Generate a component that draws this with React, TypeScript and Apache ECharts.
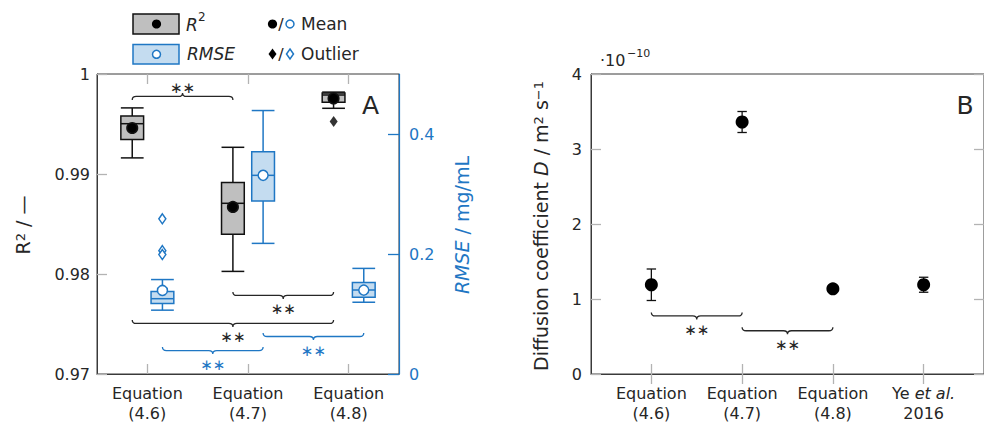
import React, { useEffect, useRef } from 'react';
import * as echarts from 'echarts';

// ---------- data ----------
const leftCategories = ['Equation\n(4.6)', 'Equation\n(4.7)', 'Equation\n(4.8)'];
// [lower whisker, Q1, median, Q3, upper whisker]
const r2Box = [
  [0.99161, 0.99346, 0.99503, 0.99579, 0.99661],
  [0.98026, 0.98398, 0.98707, 0.98914, 0.99267],
  [0.99657, 0.99717, 0.9979, 0.99809, 0.99819],
];
const r2Mean = [0.9946, 0.98671, 0.99756];
const r2Outliers = [[2, 0.99526]];
const rmseBox = [
  [0.1064, 0.1173, 0.1255, 0.1377, 0.1574],
  [0.2177, 0.2884, 0.3311, 0.3706, 0.4391],
  [0.1196, 0.1278, 0.14, 0.1525, 0.176],
];
const rmseMean = [0.1393, 0.3311, 0.1398];
const rmseOutliers = [[0, 0.2587], [0, 0.2056], [0, 0.199]];

const rightCategories = ['Equation\n(4.6)', 'Equation\n(4.7)', 'Equation\n(4.8)', 'Ye {i|et al.}\n2016'];
const rightX = [1, 2, 3, 4];
const diffMean = [1.19, 3.36, 1.135, 1.19]; // x 1e-10 m^2/s
const diffErr = [0.21, 0.14, 0.03, 0.1];

const r2TickValues = [0.97, 0.98, 0.99, 1];
const rmseTickValues = [0, 0.2, 0.4];
const diffTickValues = [0, 1, 2, 3, 4];

// significance brackets (annotations): [fromCat, fromSide, toCat, toSide, level(R2 axis), dir, blue?]
const leftBrackets = [
  [0, -1, 1, -1, 0.99776, -1, 0],
  [1, -1, 2, -1, 0.97786, 1, 0],
  [0, -1, 2, -1, 0.97506, 1, 0],
  [0, 1, 1, 1, 0.97234, 1, 1],
  [1, 1, 2, 1, 0.97375, 1, 1],
];
const rightBrackets = [
  [1, 2, 0.775, 1],
  [2, 3, 0.577, 1],
];

// ---------- styles ----------
const FONT = 'DejaVu Sans';
const DARK = '#262626';
const FRAME = '#3a3a3a';
const TICK = '#b3b3b3';
const BLUE = '#1f77c4';
const LIGHTBLUE = '#c4dcf0';
const GRAYFILL = '#bfbfbf';
const OFF = 0.15; // fraction of band width
const HALF = 0.113;
const TITLE = 19;

const tickStyle = { show: true, inside: true, length: 10, lineStyle: { color: TICK, width: 1.3 } };
const labelBase = { fontFamily: FONT, fontSize: 16, color: DARK };

function bracePath(x0: number, x1: number, y: number, dir: number) {
  const h = 3.5 * dir;
  const r = 4;
  const m = (x0 + x1) / 2;
  return `M${x0} ${y - h} Q${x0} ${y} ${x0 + r} ${y} L${m - r} ${y} Q${m} ${y} ${m} ${y + h} Q${m} ${y} ${m + r} ${y} L${x1 - r} ${y} Q${x1} ${y} ${x1} ${y - h}`;
}

function braceGroup(x0: number, x1: number, y: number, dir: number, color: string) {
  const m = (x0 + x1) / 2;
  return {
    type: 'group',
    children: [
      { type: 'path', shape: { pathData: bracePath(x0, x1, y, dir) }, style: { stroke: color, fill: 'none', lineWidth: 1.3 } },
      {
        type: 'text',
        x: m,
        y: dir > 0 ? y + 14 : y - 8,
        style: { text: '∗∗', fontFamily: FONT, fontSize: 15, fill: color, align: 'center', verticalAlign: 'middle' },
      },
    ],
  };
}

function makeBoxRender(side: number, stroke: string, fill: string, meanFill: string, r: number) {
  return (params: any, api: any) => {
    const cat = api.value(0);
    const band = api.size([1, 0])[0];
    const cx = api.coord([cat, api.value(3)])[0] + side * band * OFF;
    const hw = band * HALF;
    const yy = (i: number) => api.coord([cat, api.value(i)])[1];
    const lo = yy(1), q1 = yy(2), med = yy(3), q3 = yy(4), hi = yy(5), mean = yy(6);
    const ls = { stroke, lineWidth: 1.5 };
    return {
      type: 'group',
      children: [
        { type: 'line', shape: { x1: cx, y1: q3, x2: cx, y2: hi }, style: ls },
        { type: 'line', shape: { x1: cx, y1: q1, x2: cx, y2: lo }, style: ls },
        { type: 'line', shape: { x1: cx - hw, y1: hi, x2: cx + hw, y2: hi }, style: ls },
        { type: 'line', shape: { x1: cx - hw, y1: lo, x2: cx + hw, y2: lo }, style: ls },
        { type: 'rect', shape: { x: cx - hw, y: q3, width: 2 * hw, height: q1 - q3 }, style: { fill, stroke, lineWidth: 1.5 } },
        { type: 'line', shape: { x1: cx - hw, y1: med, x2: cx + hw, y2: med }, style: ls },
        { type: 'circle', shape: { cx, cy: mean, r }, style: { fill: meanFill, stroke, lineWidth: 1.5 } },
      ],
    };
  };
}

const titleRich = (fill: string) => ({
  i: { fontFamily: FONT, fontSize: TITLE, fill, fontStyle: 'italic' },
  sup: { fontFamily: FONT, fontSize: 13, fill, verticalAlign: 'top' },
});

const option: any = {
  animation: false,
  backgroundColor: '#fff',
  grid: [
    { left: 97, top: 74, width: 302, height: 304, show: true, borderColor: FRAME, borderWidth: 1, backgroundColor: 'transparent' },
    { left: 591, top: 74, width: 403, height: 304, show: true, borderColor: FRAME, borderWidth: 1, backgroundColor: 'transparent' },
  ],
  xAxis: [
    {
      type: 'category', gridIndex: 0, data: leftCategories, position: 'bottom',
      axisLine: { lineStyle: { color: FRAME, width: 1 } },
      axisTick: { ...tickStyle, alignWithLabel: true },
      axisLabel: { ...labelBase, margin: 9, lineHeight: 20 },
      splitLine: { show: false },
    },
    {
      type: 'category', gridIndex: 0, data: leftCategories, position: 'top',
      axisLine: { show: false },
      axisTick: { ...tickStyle, alignWithLabel: true },
      axisLabel: { show: false },
      splitLine: { show: false },
    },
    {
      type: 'value', gridIndex: 1, min: 0.335, max: 4.665, position: 'bottom',
      axisLine: { onZero: false, lineStyle: { color: FRAME, width: 1 } },
      axisTick: { ...tickStyle, customValues: rightX },
      axisLabel: {
        ...labelBase, margin: 9, lineHeight: 20, customValues: rightX,
        formatter: (v: number) => rightCategories[Math.round(v) - 1] || '',
        rich: { i: { fontFamily: FONT, fontSize: 16, color: DARK, fontStyle: 'italic' } },
      },
      splitLine: { show: false },
    },
    {
      type: 'value', gridIndex: 1, min: 0.335, max: 4.665, position: 'top',
      axisLine: { show: false },
      axisTick: { ...tickStyle, customValues: rightX },
      axisLabel: { show: false, customValues: rightX },
      splitLine: { show: false },
    },
  ],
  yAxis: [
    {
      type: 'value', gridIndex: 0, min: 0.97, max: 1, interval: 0.01, position: 'left',
      axisLine: { show: true, lineStyle: { color: FRAME, width: 1 } },
      axisTick: { ...tickStyle, customValues: r2TickValues },
      axisLabel: { ...labelBase, margin: 7, customValues: r2TickValues, formatter: (v: number) => String(+v.toFixed(2)) },
      splitLine: { show: false },
    },
    {
      type: 'value', gridIndex: 0, min: 0, max: 0.5, position: 'right',
      axisLine: { show: true, lineStyle: { color: BLUE, width: 1.2 } },
      axisTick: { show: true, inside: true, length: 11, customValues: rmseTickValues, lineStyle: { color: BLUE, width: 1.3 } },
      axisLabel: { ...labelBase, color: BLUE, margin: 10, customValues: rmseTickValues, formatter: (v: number) => String(+v.toFixed(1)) },
      splitLine: { show: false },
    },
    {
      type: 'value', gridIndex: 1, min: 0, max: 4, interval: 1, position: 'left',
      axisLine: { show: true, lineStyle: { color: FRAME, width: 1 } },
      axisTick: { ...tickStyle, customValues: diffTickValues },
      axisLabel: { ...labelBase, margin: 9, customValues: diffTickValues },
      splitLine: { show: false },
    },
    {
      type: 'value', gridIndex: 1, min: 0, max: 4, interval: 1, position: 'right',
      axisLine: { show: true, lineStyle: { color: FRAME, width: 1 } },
      axisTick: { ...tickStyle, customValues: diffTickValues },
      axisLabel: { show: false },
      splitLine: { show: false },
    },
  ],
  series: [
    {
      type: 'custom', name: 'R2', xAxisIndex: 0, yAxisIndex: 0,
      data: r2Box.map((b, i) => [i, ...b, r2Mean[i]]),
      encode: { x: 0, y: [1, 2, 3, 4, 5] },
      renderItem: makeBoxRender(-1, '#111', GRAYFILL, '#000', 5.3),
      z: 3,
    },
    {
      type: 'custom', name: 'RMSE', xAxisIndex: 0, yAxisIndex: 1,
      data: rmseBox.map((b, i) => [i, ...b, rmseMean[i]]),
      encode: { x: 0, y: [1, 2, 3, 4, 5] },
      renderItem: makeBoxRender(1, BLUE, LIGHTBLUE, '#fff', 5),
      z: 3,
    },
    {
      type: 'scatter', xAxisIndex: 0, yAxisIndex: 0, data: r2Outliers,
      symbol: 'diamond', symbolSize: [8, 11], symbolOffset: [-15, 0],
      itemStyle: { color: '#000' }, z: 4,
    },
    {
      type: 'scatter', xAxisIndex: 0, yAxisIndex: 1, data: rmseOutliers,
      symbol: 'diamond', symbolSize: [7, 10], symbolOffset: [15, 0],
      itemStyle: { color: '#fff', borderColor: BLUE, borderWidth: 1.5, opacity: 1 }, z: 4,
    },
    {
      type: 'custom', xAxisIndex: 0, yAxisIndex: 0, data: leftBrackets,
      encode: { x: 0, y: 4 },
      renderItem: (params: any, api: any) => {
        const band = api.size([1, 0])[0];
        const x0 = api.coord([api.value(0), 0.98])[0] + api.value(1) * band * OFF;
        const x1 = api.coord([api.value(2), 0.98])[0] + api.value(3) * band * OFF;
        const y = api.coord([0, api.value(4)])[1];
        return braceGroup(x0, x1, y, api.value(5), api.value(6) ? BLUE : DARK);
      },
      z: 5,
    },
    {
      type: 'custom', xAxisIndex: 2, yAxisIndex: 2,
      data: rightX.map((x, i) => [x, diffMean[i], diffErr[i]]),
      encode: { x: 0, y: 1 },
      renderItem: (params: any, api: any) => {
        const x = api.value(0), m = api.value(1), e = api.value(2);
        const top = api.coord([x, m + e]);
        const bot = api.coord([x, m - e]);
        const cw = 4.7;
        const st = { stroke: '#111', lineWidth: 1.3 };
        return {
          type: 'group',
          children: [
            { type: 'line', shape: { x1: top[0], y1: top[1], x2: bot[0], y2: bot[1] }, style: st },
            { type: 'line', shape: { x1: top[0] - cw, y1: top[1], x2: top[0] + cw, y2: top[1] }, style: st },
            { type: 'line', shape: { x1: bot[0] - cw, y1: bot[1], x2: bot[0] + cw, y2: bot[1] }, style: st },
          ],
        };
      },
      z: 3,
    },
    {
      type: 'scatter', xAxisIndex: 2, yAxisIndex: 2,
      data: rightX.map((x, i) => [x, diffMean[i]]),
      symbol: 'circle', symbolSize: 13, itemStyle: { color: '#000', opacity: 1 }, z: 4,
    },
    {
      type: 'custom', xAxisIndex: 2, yAxisIndex: 2, data: rightBrackets,
      encode: { x: 0, y: 2 },
      renderItem: (params: any, api: any) => {
        const p0 = api.coord([api.value(0), api.value(2)]);
        const p1 = api.coord([api.value(1), api.value(2)]);
        return braceGroup(p0[0], p1[0], p0[1], api.value(3), DARK);
      },
      z: 5,
    },
  ],
  graphic: [
    // legend
    { type: 'rect', shape: { x: 133, y: 14, width: 46, height: 20 }, style: { fill: GRAYFILL, stroke: '#111', lineWidth: 1.5 } },
    { type: 'circle', shape: { cx: 156.5, cy: 24, r: 4.6 }, style: { fill: '#000' } },
    { type: 'text', x: 186, y: 25, style: { text: 'R', fontFamily: FONT, fontSize: 17, fontStyle: 'italic', fill: DARK, verticalAlign: 'middle' } },
    { type: 'text', x: 198, y: 17, style: { text: '2', fontFamily: FONT, fontSize: 12, fill: DARK, verticalAlign: 'middle' } },
    { type: 'rect', shape: { x: 133, y: 44.5, width: 46, height: 19.5 }, style: { fill: LIGHTBLUE, stroke: BLUE, lineWidth: 1.5 } },
    { type: 'circle', shape: { cx: 156.5, cy: 54.3, r: 4 }, style: { fill: '#fff', stroke: BLUE, lineWidth: 1.5 } },
    { type: 'text', x: 187, y: 54, style: { text: 'RMSE', fontFamily: FONT, fontSize: 17, fontStyle: 'italic', fill: DARK, verticalAlign: 'middle' } },
    { type: 'circle', shape: { cx: 272.5, cy: 24, r: 4.6 }, style: { fill: '#000' } },
    { type: 'text', x: 281, y: 24, style: { text: '/', fontFamily: FONT, fontSize: 16, fill: DARK, align: 'center', verticalAlign: 'middle' } },
    { type: 'circle', shape: { cx: 290, cy: 24, r: 4 }, style: { fill: '#fff', stroke: BLUE, lineWidth: 1.5 } },
    { type: 'text', x: 301, y: 24, style: { text: 'Mean', fontFamily: FONT, fontSize: 17, fill: DARK, verticalAlign: 'middle' } },
    { type: 'polygon', shape: { points: [[272.5, 48.5], [276.5, 54], [272.5, 59.5], [268.5, 54]] }, style: { fill: '#000' } },
    { type: 'text', x: 281, y: 54, style: { text: '/', fontFamily: FONT, fontSize: 16, fill: DARK, align: 'center', verticalAlign: 'middle' } },
    { type: 'polygon', shape: { points: [[290, 49], [293.5, 54], [290, 59], [286.5, 54]] }, style: { fill: '#fff', stroke: BLUE, lineWidth: 1.5 } },
    { type: 'text', x: 301, y: 54, style: { text: 'Outlier', fontFamily: FONT, fontSize: 17, fill: DARK, verticalAlign: 'middle' } },
    // panel letters
    { type: 'text', x: 370.5, y: 105, style: { text: 'A', fontFamily: FONT, fontSize: 25, fill: DARK, align: 'center', verticalAlign: 'middle' } },
    { type: 'text', x: 965, y: 105, style: { text: 'B', fontFamily: FONT, fontSize: 25, fill: DARK, align: 'center', verticalAlign: 'middle' } },
    // axis titles
    {
      type: 'text', x: 23, y: 225, rotation: Math.PI / 2,
      style: {
        text: 'R{sup|2} / —', fontFamily: FONT, fontSize: TITLE, fill: DARK, align: 'center', verticalAlign: 'middle',
        rich: titleRich(DARK),
      },
    },
    {
      type: 'text', x: 462, y: 225, rotation: Math.PI / 2,
      style: {
        text: '{i|RMSE} / mg/mL', fontFamily: FONT, fontSize: TITLE, fill: BLUE, align: 'center', verticalAlign: 'middle',
        rich: titleRich(BLUE),
      },
    },
    {
      type: 'text', x: 541, y: 226, rotation: Math.PI / 2,
      style: {
        text: 'Diffusion coefficient {i|D} / m{sup|2} s{sup|−1}', fontFamily: FONT, fontSize: TITLE, fill: DARK, align: 'center', verticalAlign: 'middle',
        rich: titleRich(DARK),
      },
    },
    // exponent
    { type: 'text', x: 600, y: 60, style: { text: '·10', fontFamily: FONT, fontSize: 16, fill: DARK, verticalAlign: 'middle' } },
    { type: 'text', x: 627, y: 53, style: { text: '−10', fontFamily: FONT, fontSize: 11, fill: DARK, verticalAlign: 'middle' } },
  ],
};

export default function App() {
  const ref = useRef<HTMLDivElement>(null);
  useEffect(() => {
    const chart = echarts.init(ref.current!, null, { renderer: 'svg' });
    chart.setOption(option);
    return () => chart.dispose();
  }, []);
  return <div ref={ref} style={{ position: 'fixed', left: 0, top: 0, width: 984, height: 423 }} />;
}
